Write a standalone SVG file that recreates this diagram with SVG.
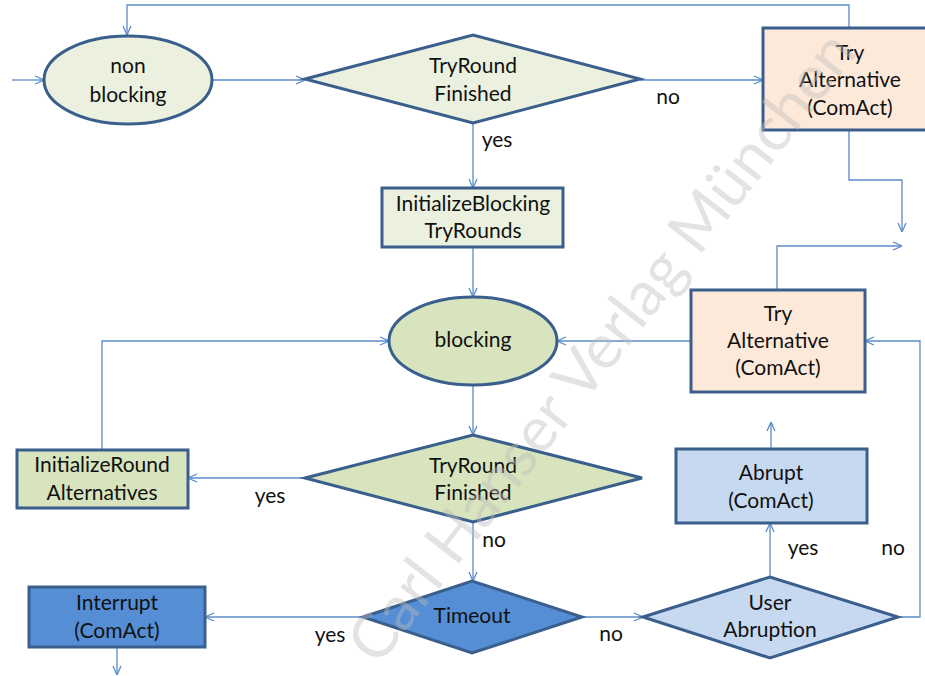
<svg xmlns="http://www.w3.org/2000/svg" width="925" height="676" viewBox="0 0 925 676">
  <defs>
    <marker id="arrow" viewBox="0 0 10 10" refX="10" refY="5" markerWidth="10" markerHeight="10" markerUnits="userSpaceOnUse" orient="auto">
      <path d="M1,1 L10,5 L1,9" fill="none" stroke="#5b8cc8" stroke-width="1.3"/>
    </marker>
    <style>
      .node { stroke: #3a5f8c; stroke-width: 3; }
      .pale { fill: #ebf1de; }
      .green { fill: #d7e4bd; }
      .peach { fill: #fde9d9; }
      .lblue { fill: #c6d9f1; }
      .dblue { fill: #558ed5; }
      .conn { fill: none; stroke: #5b8cc8; stroke-width: 1.3; marker-end: url(#arrow); }
      text { font-family: Lato, "Open Sans", sans-serif; font-size: 21px; fill: #111; text-anchor: middle; }
      .mark { font-size: 62px; fill: #bdbdbd; fill-opacity: 0.42; }
    </style>
  </defs>

  <rect width="925" height="676" fill="#ffffff"/>

  <g id="connectors">
    <path class="conn" d="M12,80 H44"/>
    <path class="conn" d="M212,80 H305"/>
    <path class="conn" d="M640,80 H763"/>
    <path class="conn" d="M849,28 V5 H127 V35"/>
    <path class="conn" d="M849,130 V180 H902 V232"/>
    <path class="conn" d="M777,290 V246 H902"/>
    <path class="conn" d="M473,123 V188"/>
    <path class="conn" d="M473,247 V297"/>
    <path class="conn" d="M691,341 H557"/>
    <path class="conn" d="M473,385 V435"/>
    <path class="conn" d="M305,478 H188"/>
    <path class="conn" d="M102,450 V341 H389"/>
    <path class="conn" d="M473,522 V581"/>
    <path class="conn" d="M363,617 H205"/>
    <path class="conn" d="M582,617 H643"/>
    <path class="conn" d="M770,577 V523"/>
    <path class="conn" d="M771,449 V422"/>
    <path class="conn" d="M898,617 H920 V341 H865"/>
    <path class="conn" d="M117,647 V675"/>
    <text x="668" y="104">no</text>
    <text x="497" y="147">yes</text>
    <text x="270" y="503">yes</text>
    <text x="494" y="547">no</text>
    <text x="330" y="642">yes</text>
    <text x="611" y="641">no</text>
    <text x="803" y="555">yes</text>
    <text x="893" y="555">no</text>
  </g>

  <g id="non-blocking">
    <ellipse class="node pale" cx="128" cy="80" rx="84" ry="44"/>
    <text x="128" y="73">non</text>
    <text x="128" y="102">blocking</text>
  </g>

  <g id="tryround-finished-1">
    <polygon class="node pale" points="305,79 473,35 640,79 473,123"/>
    <text x="473" y="73">TryRound</text>
    <text x="473" y="101">Finished</text>
  </g>

  <g id="try-alternative-1">
    <rect class="node peach" x="763" y="28" width="175" height="102"/>
    <text x="850" y="60">Try</text>
    <text x="850" y="87">Alternative</text>
    <text x="850" y="115">(ComAct)</text>
  </g>

  <g id="initialize-blocking">
    <rect class="node pale" x="382" y="188" width="181" height="59"/>
    <text x="473" y="211">InitializeBlocking</text>
    <text x="473" y="238">TryRounds</text>
  </g>

  <g id="blocking">
    <ellipse class="node green" cx="473" cy="341" rx="84" ry="44"/>
    <text x="473" y="347">blocking</text>
  </g>

  <g id="try-alternative-2">
    <rect class="node peach" x="691" y="290" width="174" height="102"/>
    <text x="778" y="321">Try</text>
    <text x="778" y="348">Alternative</text>
    <text x="778" y="375">(ComAct)</text>
  </g>

  <g id="initialize-round">
    <rect class="node green" x="17" y="450" width="171" height="58"/>
    <text x="102" y="472">InitializeRound</text>
    <text x="102" y="500">Alternatives</text>
  </g>

  <g id="tryround-finished-2">
    <polygon class="node green" points="305,478 473,435 642,478 473,522"/>
    <text x="473" y="473">TryRound</text>
    <text x="473" y="500">Finished</text>
  </g>

  <g id="abrupt">
    <rect class="node lblue" x="676" y="449" width="191" height="74"/>
    <text x="771" y="480">Abrupt</text>
    <text x="771" y="508">(ComAct)</text>
  </g>

  <g id="timeout">
    <polygon class="node dblue" points="363,617 472,581 582,617 472,653"/>
    <text x="472" y="623">Timeout</text>
  </g>

  <g id="user-abruption">
    <polygon class="node lblue" points="643,617 770,577 898,617 770,658"/>
    <text x="770" y="610">User</text>
    <text x="770" y="637">Abruption</text>
  </g>

  <g id="interrupt">
    <rect class="node dblue" x="29" y="587" width="176" height="60"/>
    <text x="117" y="610">Interrupt</text>
    <text x="117" y="638">(ComAct)</text>
  </g>

  <!-- publisher watermark, drawn diagonally across the chart -->
  <text class="mark" x="618" y="360" transform="rotate(-52 618 360)" textLength="780" lengthAdjust="spacingAndGlyphs">Carl Hanser Verlag München</text>
</svg>
